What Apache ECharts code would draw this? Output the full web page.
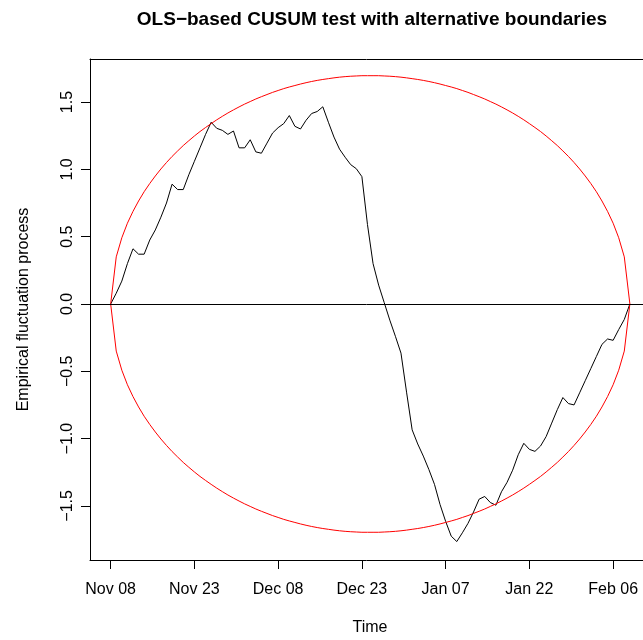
<!DOCTYPE html>
<html>
<head>
<meta charset="utf-8">
<script src="https://cdn.jsdelivr.net/npm/echarts@6/dist/echarts.min.js"></script>
<style>
html,body{margin:0;padding:0;background:#fff;}
#chart{width:643px;height:640px;}
</style>
</head>
<body>
<div id="chart"></div>
<script>
// Days since Nov 08 for each observation of the fluctuation process
const days = [];
for (let i = 0; i <= 93; i++) days.push(i);

// Empirical fluctuation process (OLS-based CUSUM)
const cusum = [
  0, 0.08, 0.17, 0.30, 0.41, 0.37, 0.37, 0.475, 0.55, 0.645,
  0.75, 0.89, 0.85, 0.85, 0.96, 1.06, 1.16, 1.26, 1.35, 1.305,
  1.29, 1.26, 1.285, 1.16, 1.16, 1.22, 1.13, 1.12, 1.195, 1.27,
  1.31, 1.34, 1.40, 1.32, 1.30, 1.365, 1.415, 1.43, 1.465, 1.35,
  1.24, 1.15, 1.09, 1.035, 1.005, 0.946, 0.59, 0.30, 0.14, 0.01,
  -0.12, -0.24, -0.365, -0.655, -0.935, -1.04, -1.13, -1.23, -1.34, -1.49,
  -1.615, -1.725, -1.765, -1.70, -1.63, -1.545, -1.45, -1.43, -1.475, -1.495,
  -1.395, -1.325, -1.235, -1.12, -1.035, -1.08, -1.095, -1.055, -0.985, -0.885,
  -0.785, -0.695, -0.74, -0.75, -0.66, -0.57, -0.48, -0.39, -0.30, -0.26,
  -0.27, -0.19, -0.115, 0
];

// Alternative (upper) boundary
const boundary = [
  0, 0.350, 0.492, 0.600, 0.688, 0.765, 0.834, 0.895, 0.951, 1.003,
  1.051, 1.096, 1.137, 1.177, 1.213, 1.248, 1.281, 1.311, 1.340, 1.368,
  1.394, 1.419, 1.442, 1.464, 1.485, 1.504, 1.523, 1.540, 1.556, 1.572,
  1.586, 1.600, 1.612, 1.623, 1.634, 1.644, 1.653, 1.661, 1.668, 1.674,
  1.680, 1.685, 1.689, 1.692, 1.694, 1.696, 1.696, 1.696, 1.696, 1.694,
  1.692, 1.689, 1.685, 1.680, 1.674, 1.668, 1.661, 1.653, 1.644, 1.634,
  1.623, 1.612, 1.600, 1.586, 1.572, 1.556, 1.540, 1.523, 1.504, 1.485,
  1.464, 1.442, 1.419, 1.394, 1.368, 1.340, 1.311, 1.281, 1.248, 1.213,
  1.177, 1.137, 1.096, 1.051, 1.003, 0.951, 0.895, 0.834, 0.765, 0.688,
  0.600, 0.492, 0.350, 0
];

// Axis ticks
const xTickDays = [0, 15, 30, 45, 60, 75, 90];
const xTickLabels = ['Nov 08', 'Nov 23', 'Dec 08', 'Dec 23', 'Jan 07', 'Jan 22', 'Feb 06'];
const yTicks = [-1.5, -1.0, -0.5, 0, 0.5, 1.0, 1.5];

const titleText = 'OLS\u2212based CUSUM test with alternative boundaries';
const xName = 'Time';
const yName = 'Empirical fluctuation process';

const FONT = "'Liberation Sans', Arial, Helvetica, sans-serif";

const pair = (ys) => days.map((d, i) => [d, ys[i]]);
const lower = boundary.map(v => -v);

function fmtY(v) {
  const s = Math.abs(v).toFixed(1);
  return (v < 0 ? '\u2212' : '') + s;
}
function fmtX(v) {
  const idx = xTickDays.indexOf(Math.round(v));
  return idx >= 0 ? xTickLabels[idx] : '';
}

const X_MIN = -3.7, X_MAX = 95.35;

const chart = echarts.init(document.getElementById('chart'), null, {renderer: 'canvas'});
chart.setOption({
  animation: false,
  backgroundColor: '#ffffff',
  graphic: [{
    type: 'text',
    x: 372, y: 20,
    style: {
      text: titleText,
      fontFamily: FONT, fontWeight: 'bold', fontSize: 19,
      fill: '#000', align: 'center', verticalAlign: 'middle'
    }
  }, {
    type: 'text',
    x: 370, y: 628,
    style: {
      text: xName,
      fontFamily: FONT, fontSize: 16,
      fill: '#000', align: 'center', verticalAlign: 'middle'
    }
  }],
  grid: {
    left: 90, top: 59, bottom: 80, right: 0,
    show: false
  },
  xAxis: [{
    type: 'value',
    min: X_MIN, max: X_MAX,
    axisLine: {show: true, onZero: false, lineStyle: {color: '#000', width: 1}},
    splitLine: {show: false},
    axisTick: {show: true, inside: false, customValues: xTickDays, length: 9, lineStyle: {color: '#000', width: 1}},
    axisLabel: {show: true, inside: false, customValues: xTickDays, formatter: fmtX, margin: 22,
      fontFamily: FONT, fontSize: 16, color: '#000'}
  }, {
    type: 'value', position: 'top',
    min: X_MIN, max: X_MAX,
    axisLine: {show: true, onZero: false, lineStyle: {color: '#000', width: 1}},
    splitLine: {show: false},
    axisTick: {show: false},
    axisLabel: {show: false}
  }],
  yAxis: {
    type: 'value',
    min: -1.902, max: 1.820,
    name: yName, nameLocation: 'middle', nameGap: 58,
    nameTextStyle: {fontFamily: FONT, fontSize: 16, color: '#000'},
    axisLine: {show: true, onZero: false, lineStyle: {color: '#000', width: 1}},
    splitLine: {show: false},
    axisTick: {show: true, inside: false, customValues: yTicks, length: 9, lineStyle: {color: '#000', width: 1}},
    axisLabel: {show: true, inside: false, customValues: yTicks, formatter: fmtY, rotate: 90, margin: 14,
      fontFamily: FONT, fontSize: 16, color: '#000'}
  },
  series: [
    {
      type: 'line', data: pair(cusum), showSymbol: false, symbol: 'none',
      lineStyle: {color: '#000', width: 1}, z: 2
    },
    {
      type: 'line', data: pair(boundary), showSymbol: false, symbol: 'none',
      lineStyle: {color: '#ff0000', width: 1}, z: 3
    },
    {
      type: 'line', data: pair(lower), showSymbol: false, symbol: 'none',
      lineStyle: {color: '#ff0000', width: 1}, z: 3,
      markLine: {
        silent: true, symbol: 'none', label: {show: false},
        lineStyle: {color: '#000', width: 1, type: 'solid'},
        data: [{yAxis: 0}]
      }
    }
  ]
});
</script>
</body>
</html>
